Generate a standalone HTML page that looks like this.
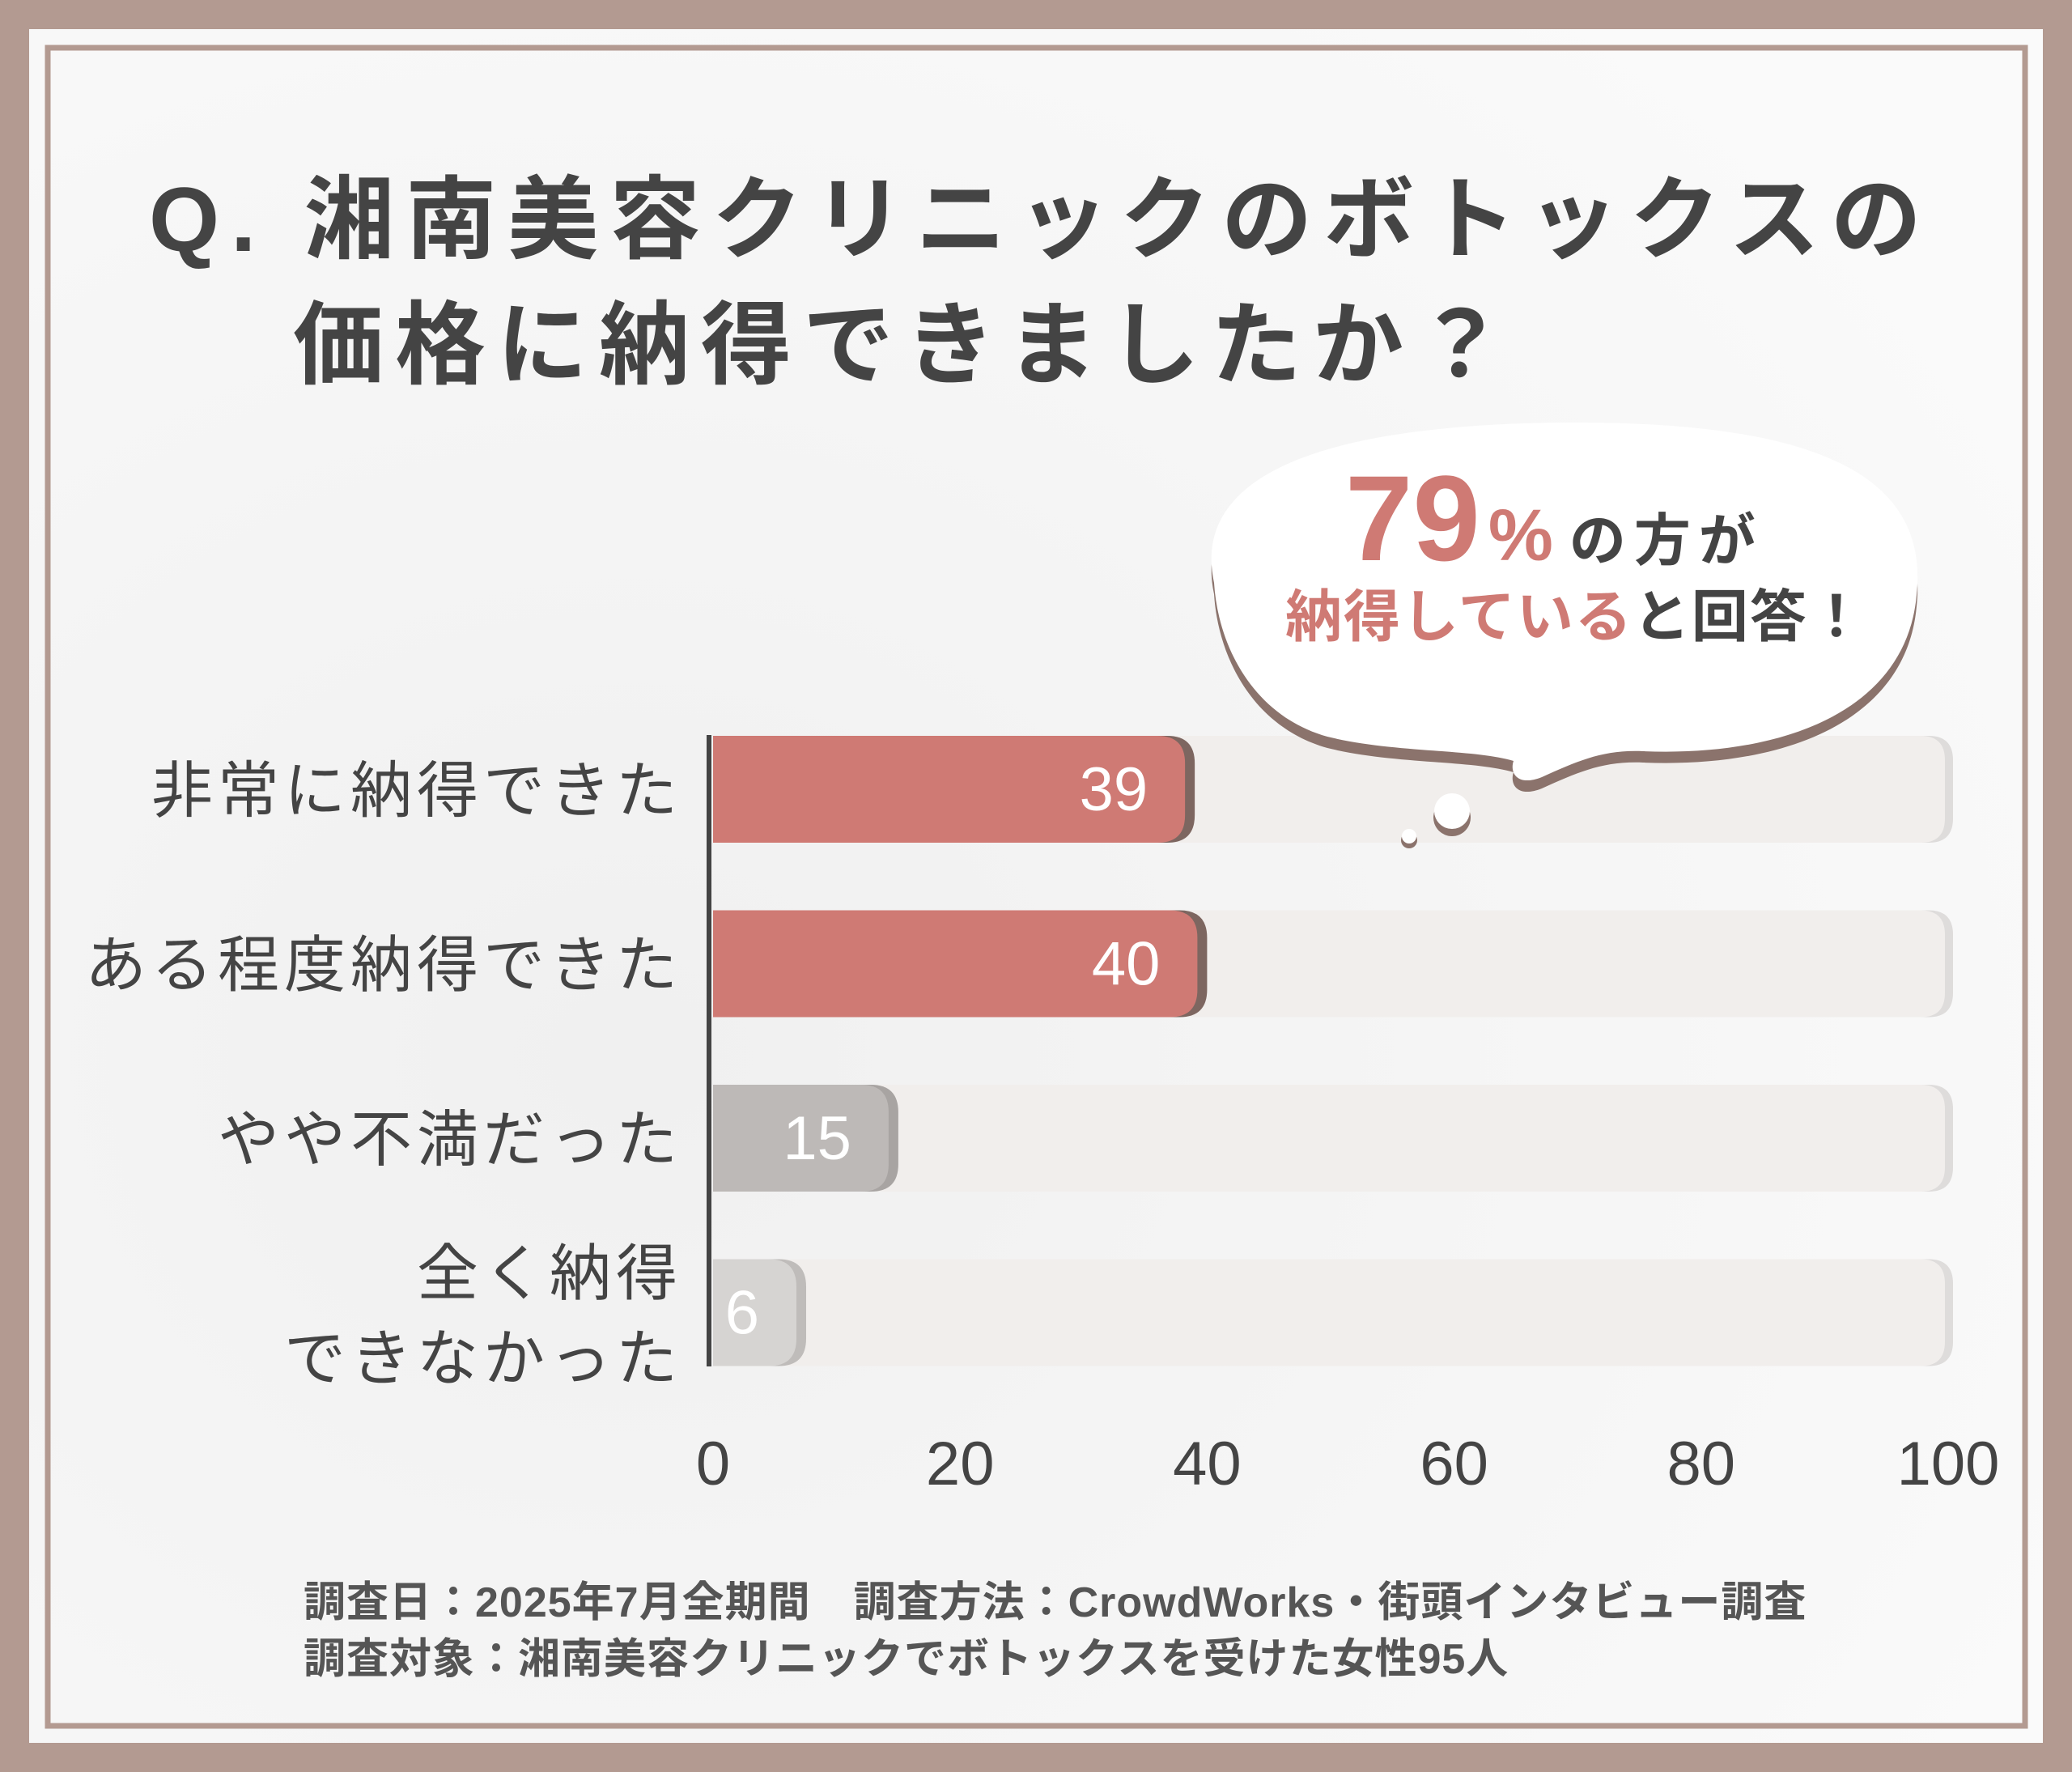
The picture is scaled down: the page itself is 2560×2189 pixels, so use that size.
<!DOCTYPE html>
<html><head><meta charset="utf-8">
<style>
html,body{margin:0;padding:0;background:#b39a91;}
svg{display:block;}
text{font-family:"Liberation Sans","Noto Sans CJK JP",sans-serif;}
</style></head>
<body>
<svg id="chart" width="2560" height="2189" viewBox="0 0 2560 2189" xmlns="http://www.w3.org/2000/svg">
<defs>
<radialGradient id="bgG" cx="0.3" cy="0.6" r="0.8">
<stop offset="0" stop-color="#f0f0f0"/><stop offset="1" stop-color="#fafafa"/>
</radialGradient>
</defs>
<rect x="0" y="0" width="2560" height="2189" fill="#b39a91"/>
<rect x="36" y="36" width="2488" height="2117" fill="url(#bgG)"/>
<rect x="59" y="59" width="2443" height="2073" fill="none" stroke="#b39a91" stroke-width="7"/>

<g fill="#444" font-weight="bold" font-size="112">
<text x="184" y="310" letter-spacing="14">Q. 湘南美容クリニックのボトックスの</text>
<text x="362" y="465" letter-spacing="14">価格に納得できましたか？</text>
</g>

<g id="tracks"></g>
<g id="bars"></g>
<g id="labels"></g>
<g id="ticks"></g>
<rect x="873" y="908" width="6" height="780" fill="#444"/>

<g>
<path d="M1500,720 C1470,580 1650,525 1930,522 C2220,520 2385,575 2368,735 C2355,880 2200,935 2030,928 C1980,926 1950,940 1905,960 C1875,972 1865,955 1870,940 C1820,925 1720,930 1640,910 C1550,885 1505,800 1500,720 Z" fill="#8b736c" transform="translate(0,14)"/>
<path d="M1500,720 C1470,580 1650,525 1930,522 C2220,520 2385,575 2368,735 C2355,880 2200,935 2030,928 C1980,926 1950,940 1905,960 C1875,972 1865,955 1870,940 C1820,925 1720,930 1640,910 C1550,885 1505,800 1500,720 Z" fill="#ffffff"/>
<circle cx="1794" cy="1010" r="23" fill="#8b736c"/>
<circle cx="1794" cy="1002" r="22" fill="#fff"/>
<circle cx="1741" cy="1038" r="10" fill="#8b736c"/>
<circle cx="1741" cy="1033" r="9" fill="#fff"/>
<text x="1662" y="692" font-size="150" font-weight="bold" fill="#cf7a74">79<tspan font-size="90" dx="10">%</tspan><tspan font-size="70" fill="#444" dx="20" letter-spacing="10">の方が</tspan></text>
<text x="1588" y="786" font-size="70" font-weight="bold" fill="#cf7a74" letter-spacing="2">納得している<tspan fill="#444">と回答！</tspan></text>
</g>

<g fill="#555" font-size="52" font-weight="bold">
<text x="375" y="1997" letter-spacing="1">調査日：2025年7月全期間　調査方法：CrowdWorks・街頭インタビュー調査</text>
<text x="375" y="2067" letter-spacing="1">調査対象：湘南美容クリニックでボトックスを受けた女性95人</text>
</g>
</svg>
<script>
const categories = [["非常に納得できた"], ["ある程度納得できた"], ["やや不満だった"], ["全く納得", "できなかった"]];
const values = [39, 40, 15, 6];
const tickLabels = ["0", "20", "40", "60", "80", "100"];
const tickValues = [0, 20, 40, 60, 80, 100];
const barColors = ["#cf7a74", "#cf7a74", "#bdb9b7", "#d6d4d2"];
const shadowColors = ["#7d6660", "#7d6660", "#a8a4a2", "#bfbcba"];

const NS = "http://www.w3.org/2000/svg";
const x0 = 881, x100 = 2407;
function xScale(v){ return x0 + (x100 - x0) * v / 100; }
const rowTop0 = 909, rowPitch = 215.5, barH = 132;
function yScale(i){ return rowTop0 + i * rowPitch; }
function roundRight(x, y, w, h, r){
  r = Math.min(r, w);
  return `M${x},${y} H${x+w-r} Q${x+w},${y} ${x+w},${y+r} V${y+h-r} Q${x+w},${y+h} ${x+w-r},${y+h} H${x} Z`;
}
function mk(tag, attrs){ const e = document.createElementNS(NS, tag); for (const k in attrs) e.setAttribute(k, attrs[k]); return e; }

const tracks = document.getElementById('tracks');
const bars = document.getElementById('bars');
const labels = document.getElementById('labels');
const ticks = document.getElementById('ticks');

values.forEach((v, i) => {
  const y = yScale(i);
  const trS = mk('path', {d: roundRight(x0, y, xScale(100) - x0 + 6, barH, 30), fill: '#dedcdb'});
  
  
  tracks.appendChild(trS);
  const tr = mk('path', {d: roundRight(x0, y, xScale(100) - x0 - 4, barH, 30), fill: '#f1eeec'});
  
  
  tracks.appendChild(tr);

  const end = Math.max(xScale(v), x0 + 115);
  const sh = mk('path', {d: roundRight(x0, y, end - x0, barH, 34), fill: shadowColors[i]});
  
  
  bars.appendChild(sh);
  const b = mk('path', {d: roundRight(x0, y, end - x0 - 12, barH, 34), fill: barColors[i]});
  
  
  bars.appendChild(b);
  const t = mk('text', {x: end - 58, y: y + barH/2 + 26, 'text-anchor': 'end', 'font-size': '76', fill: '#fff'});
  t.textContent = values[i];
  
  
  bars.appendChild(t);

  const lines = categories[i];
  lines.forEach((ln, j) => {
    const ly = lines.length === 1 ? y + barH/2 + 28 : y + barH/2 - 22 + j * 105;
    const lt = mk('text', {x: 843, y: ly, 'text-anchor': 'end', 'font-size': '76', fill: '#444', 'letter-spacing': '6'});
    lt.textContent = ln;
    
    
    labels.appendChild(lt);
  });
});

tickValues.forEach((tv, k) => {
  const t = mk('text', {x: xScale(tv), y: 1834, 'text-anchor': 'middle', 'font-size': '76', fill: '#444'});
  t.textContent = tickLabels[k];
  
  
  ticks.appendChild(t);
});
</script>
</body></html>
